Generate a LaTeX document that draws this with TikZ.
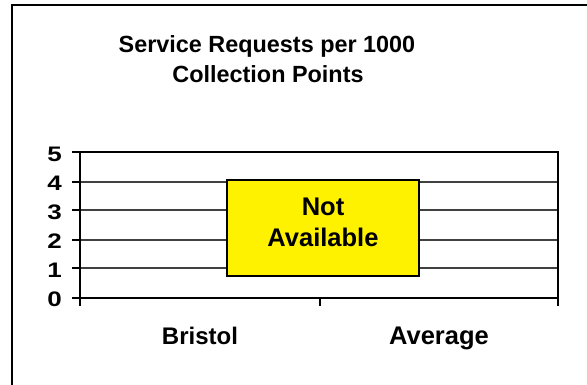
\documentclass[tikz,border=0pt]{standalone}
\usepackage{fontspec}
\setmainfont{Liberation Sans}
\begin{document}
\begin{tikzpicture}[x=1pt,y=-1pt,
  lbl/.style={font=\bfseries\fontsize{24}{28}\selectfont, anchor=base, inner sep=0pt},
  ttl/.style={font=\bfseries\fontsize{23.4}{28}\selectfont, anchor=base, inner sep=0pt},
  ytk/.style={font=\bfseries\fontsize{20}{24}\selectfont, anchor=base east, inner sep=0pt},
  grid/.style={draw=black!75, line width=1.3pt},
  axis/.style={draw=black, line width=1.6pt}]
\useasboundingbox (0,0) rectangle (587,385);
% outer frame
\draw[line width=2.8pt] (12,386) -- (12,5) -- (588,5);
% title
\node[ttl] (t1) at (267,53) {Service Requests per 1000};
\node[ttl] (t2) at (268,83) {Collection Points};
% gridlines
\foreach \yy in {182,210,240,268} \draw[grid] (80,\yy) -- (558,\yy);
% plot border top and right
\draw[axis] (80,152) -- (558,152) -- (558,298);
% axes
\draw[axis] (80,152) -- (80,306);
\draw[axis] (72,298) -- (558,298);
% y ticks
\foreach \yy in {152,182,210,240,268} \draw[axis] (72,\yy) -- (80,\yy);
% x ticks
\draw[axis] (320,298) -- (320,306);
\draw[axis] (558,298) -- (558,306);
% y labels
\node[ytk] (y5) at (62,162) {\scalebox{1.3}[1.05]{5}};
\node[ytk] (y4) at (62,191) {\scalebox{1.3}[1.05]{4}};
\node[ytk] (y3) at (62,219) {\scalebox{1.3}[1.05]{3}};
\node[ytk] (y2) at (62,249) {\scalebox{1.3}[1.05]{2}};
\node[ytk] (y1) at (62,277) {\scalebox{1.3}[1.05]{1}};
\node[ytk] (y0) at (62,306) {\scalebox{1.3}[1.05]{0}};
% category labels
\node[lbl] (c1) at (200,344) {Bristol};
\node[lbl,font=\bfseries\fontsize{25.5}{28}\selectfont] (c2) at (439,344) {Average};
% not available box
\draw[fill=yellow, line width=1.8pt] (227,180) rectangle (419,276);
\node[lbl,font=\bfseries\fontsize{25.5}{28}\selectfont] (na1) at (323,216) {Not};
\node[lbl,font=\bfseries\fontsize{25.5}{28}\selectfont] (na2) at (323,247) {Available};
\end{tikzpicture}
\end{document}
